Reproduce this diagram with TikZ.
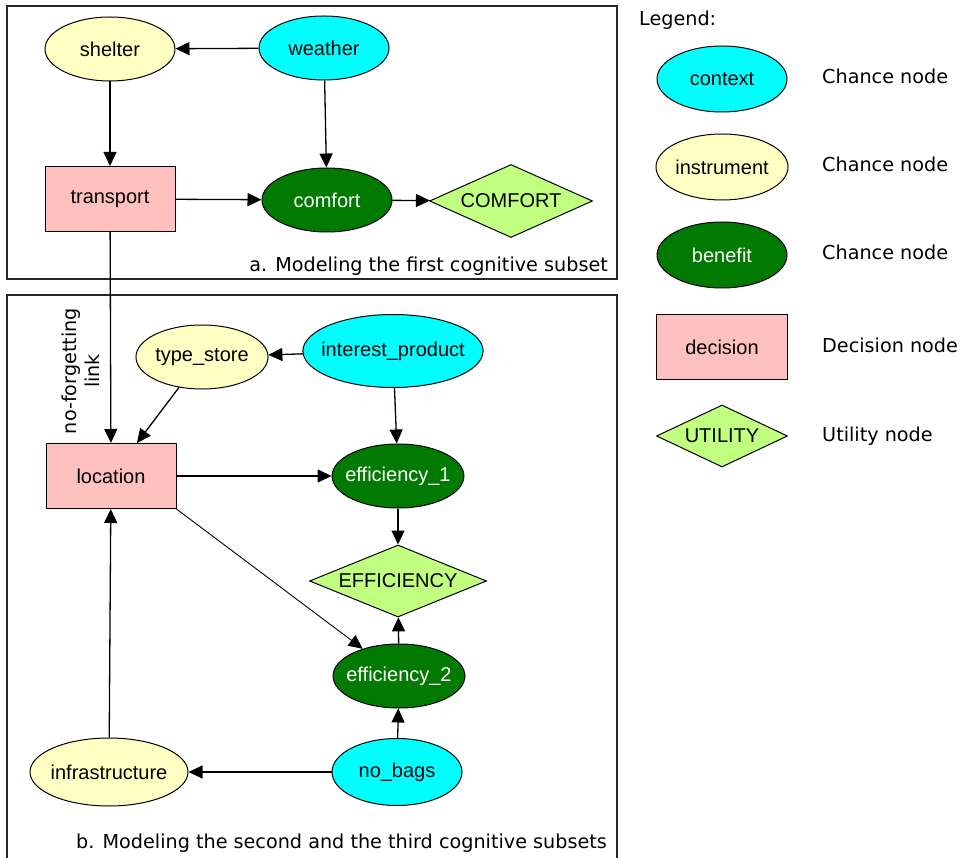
\documentclass[tikz,border=0pt]{standalone}
\usepackage{fontspec}
\setmainfont{DejaVu Sans}
\newfontfamily\nodefont{Liberation Sans}
\usetikzlibrary{shapes.geometric,arrows.meta}

\definecolor{ctxcol}{HTML}{00FFFF}
\definecolor{inscol}{HTML}{FFFFC4}
\definecolor{bencol}{HTML}{007A00}
\definecolor{deccol}{HTML}{FFC0C0}
\definecolor{utilcol}{HTML}{C0FF80}

\tikzset{
  base/.style={draw=black, line width=1pt, inner sep=0pt,
    font=\nodefont\fontsize{20}{23}\selectfont},
  ctx/.style={base, ellipse, fill=ctxcol, minimum width=130pt, minimum height=64pt},
  ins/.style={base, ellipse, fill=inscol, minimum width=130pt, minimum height=64pt},
  ben/.style={base, ellipse, fill=bencol, text=white, minimum width=130pt, minimum height=64pt},
  dec/.style={base, rectangle, fill=deccol, minimum width=130pt, minimum height=65pt},
  util/.style={base, diamond, fill=utilcol, aspect=2.2},
  link/.style={line width=1.3pt, -{Triangle[length=14pt,width=13pt]}},
  panel/.style={line width=1.3pt, draw=black!85},
  caption/.style={font=\fontsize{19.2}{23}\selectfont, inner sep=0pt},
}

\begin{document}
\begin{tikzpicture}[x=1pt, y=-1pt]
\useasboundingbox (0,0) rectangle (961,858);
\fill[white] (0,0) rectangle (961,858);

% panel frames
\draw[panel] (7,6) rectangle (617,279);
\draw[panel] (7,858) |- (617,295) -- (617,858);

% panel a: first cognitive subset
\node[ins] (shelter) at (110,49) {shelter};
\node[ctx] (weather) at (324,48) {weather};
\node[dec] (transport) at (110,199) {transport};
\node[ben] (comfort) at (327,200) {comfort};
\node[util, minimum width=163pt, minimum height=73pt] (COMFORT) at (511,201) {COMFORT};
\node[caption, anchor=east] (capa) at (608,266) {a. Modeling the first cognitive subset};

\draw[link] (weather) -- (shelter);
\draw[link] (shelter) -- (transport);
\draw[link] (weather) -- (comfort);
\draw[link] (transport) -- (comfort);
\draw[link] (comfort) -- (COMFORT);

% panel b: second and third cognitive subsets
\node[ins] (store) at (202,357) {type\_store};
\node[ctx, inner xsep=-8pt, minimum width=180pt, minimum height=73pt] (interest) at (393,351) {interest\_product};
\node[dec] (location) at (111,476) {location};
\node[ben, inner xsep=-6pt] (eff1) at (398,476) {efficiency\_1};
\node[util, minimum width=177pt, minimum height=72pt] (EFF) at (398,581) {EFFICIENCY};
\node[ben, inner xsep=-6pt] (eff2) at (399,676) {efficiency\_2};
\node[ins, inner xsep=-3pt, minimum width=158pt, minimum height=68pt] (infra) at (109,772) {infrastructure};
\node[ctx, minimum height=67pt] (bags) at (397,772) {no\_bags};
\node[caption, anchor=east] (capb) at (607,843) {b. Modeling the second and the third cognitive subsets};
\node[caption, rotate=90, align=center] (nflabel) at (81,371) {no-forgetting\\link};

\coordinate (locin) at ([xshift=26pt]location.north);
\draw[link] (transport) -- (location);
\draw[link] (interest) -- (store);
\draw[link] (store) -- (locin);
\draw[link] (interest) -- (eff1);
\draw[link] (location) -- (eff1);
\draw[link] (eff1) -- (EFF);
\draw[link, line width=0.9pt] (location.south east) -- (eff2);
\draw[link] (eff2) -- (EFF);
\draw[link] (bags) -- (eff2);
\draw[link] (bags) -- (infra);
\draw[link] (infra) -- (location);

% legend
\node[caption, anchor=west] (legtitle) at (639,20) {Legend:};
\node[ctx, minimum height=66pt] (lctx) at (722,79) {context};
\node[ins, minimum height=66pt] (lins) at (722,167) {instrument};
\node[ben, minimum height=66pt] (lben) at (722,255) {benefit};
\node[dec, minimum width=131pt] (ldec) at (722,347) {decision};
\node[util, minimum width=131pt, minimum height=62pt] (lutil) at (722,436) {UTILITY};
\node[caption, anchor=west] (tctx) at (822,76) {Chance node};
\node[caption, anchor=west] (tins) at (822,164) {Chance node};
\node[caption, anchor=west] (tben) at (822,252) {Chance node};
\node[caption, anchor=west] (tdec) at (822,345) {Decision node};
\node[caption, anchor=west] (tutil) at (822,436) {Utility node};
\end{tikzpicture}
\end{document}
